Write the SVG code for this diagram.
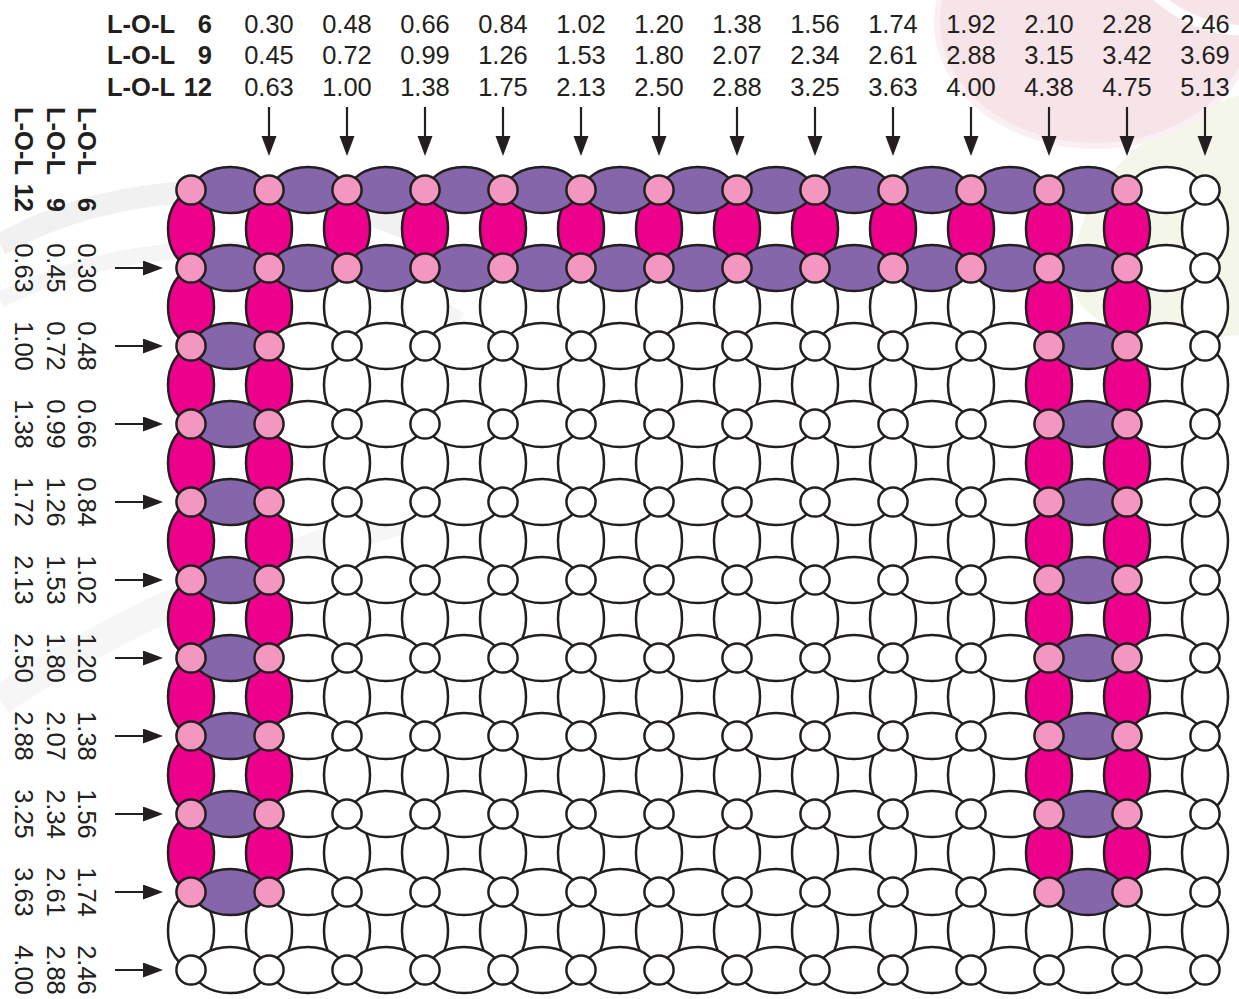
<svg xmlns="http://www.w3.org/2000/svg" width="1239" height="999" viewBox="0 0 1239 999">
<style>
text{font-family:"Liberation Sans",Arial,sans-serif;font-size:25.5px;fill:#231F20}
.lb{font-weight:bold}
.c{text-anchor:middle}
.e{text-anchor:end}
.beads ellipse,.beads circle{stroke:#231F20;stroke-width:2.5}
.w{fill:#FFFFFF}
.u{fill:#8566AB}
.m{fill:#EC008C}
.k{fill:#F397C0}
.ar{stroke:#231F20;stroke-width:2.2;fill:none}
</style>
<defs>
<marker id="ah" markerUnits="userSpaceOnUse" markerWidth="22" markerHeight="16" refX="14" refY="7.5" orient="auto">
<path d="M0,0 L20,7.5 L0,15 Z" fill="#231F20"/>
</marker>
</defs>
<g id="background">
<rect width="1239" height="999" fill="#FFFFFF"/>
<path d="M1239,95 C1150,125 1090,170 1072,260 C1062,320 1120,345 1239,335 Z" fill="#F5F6EA"/>
<ellipse cx="1095" cy="22" rx="158" ry="124" fill="#F7E4E9" stroke="#FAEFF2" stroke-width="6"/>
<path d="M1150,-10 C1180,20 1215,30 1239,30" stroke="#FFFFFF" stroke-width="10" fill="none"/>
<path d="M0,245 C120,175 300,175 420,235" stroke="#F1F1F1" stroke-width="22" fill="none"/>
<path d="M0,300 C150,225 330,235 460,320" stroke="#F5F5F5" stroke-width="16" fill="none"/>
<path d="M0,700 C120,620 260,560 400,520" stroke="#F6F6F6" stroke-width="30" fill="none"/>
</g>
<g id="top-labels">
<text class="lb" x="107" y="33">L-O-L</text><text class="lb e" x="212" y="33">6</text>
<text class="lb" x="107" y="64">L-O-L</text><text class="lb e" x="212" y="64">9</text>
<text class="lb" x="107" y="96">L-O-L</text><text class="lb e" x="212" y="96">12</text>
<text class="c" x="269" y="33">0.30</text><text class="c" x="347" y="33">0.48</text><text class="c" x="425" y="33">0.66</text><text class="c" x="503" y="33">0.84</text><text class="c" x="581" y="33">1.02</text><text class="c" x="659" y="33">1.20</text><text class="c" x="737" y="33">1.38</text><text class="c" x="815" y="33">1.56</text><text class="c" x="893" y="33">1.74</text><text class="c" x="971" y="33">1.92</text><text class="c" x="1049" y="33">2.10</text><text class="c" x="1127" y="33">2.28</text><text class="c" x="1205" y="33">2.46</text>
<text class="c" x="269" y="64">0.45</text><text class="c" x="347" y="64">0.72</text><text class="c" x="425" y="64">0.99</text><text class="c" x="503" y="64">1.26</text><text class="c" x="581" y="64">1.53</text><text class="c" x="659" y="64">1.80</text><text class="c" x="737" y="64">2.07</text><text class="c" x="815" y="64">2.34</text><text class="c" x="893" y="64">2.61</text><text class="c" x="971" y="64">2.88</text><text class="c" x="1049" y="64">3.15</text><text class="c" x="1127" y="64">3.42</text><text class="c" x="1205" y="64">3.69</text>
<text class="c" x="269" y="96">0.63</text><text class="c" x="347" y="96">1.00</text><text class="c" x="425" y="96">1.38</text><text class="c" x="503" y="96">1.75</text><text class="c" x="581" y="96">2.13</text><text class="c" x="659" y="96">2.50</text><text class="c" x="737" y="96">2.88</text><text class="c" x="815" y="96">3.25</text><text class="c" x="893" y="96">3.63</text><text class="c" x="971" y="96">4.00</text><text class="c" x="1049" y="96">4.38</text><text class="c" x="1127" y="96">4.75</text><text class="c" x="1205" y="96">5.13</text>
</g>
<g id="left-labels">
<g transform="translate(78,0) rotate(90)">
<text class="lb" x="107" y="0">L-O-L</text><text class="lb e" x="212" y="0">6</text>
<text class="c" x="268" y="0">0.30</text><text class="c" x="346" y="0">0.48</text><text class="c" x="424" y="0">0.66</text><text class="c" x="502" y="0">0.84</text><text class="c" x="580" y="0">1.02</text><text class="c" x="658" y="0">1.20</text><text class="c" x="736" y="0">1.38</text><text class="c" x="814" y="0">1.56</text><text class="c" x="892" y="0">1.74</text><text class="c" x="970" y="0">2.46</text>
</g>
<g transform="translate(47,0) rotate(90)">
<text class="lb" x="107" y="0">L-O-L</text><text class="lb e" x="212" y="0">9</text>
<text class="c" x="268" y="0">0.45</text><text class="c" x="346" y="0">0.72</text><text class="c" x="424" y="0">0.99</text><text class="c" x="502" y="0">1.26</text><text class="c" x="580" y="0">1.53</text><text class="c" x="658" y="0">1.80</text><text class="c" x="736" y="0">2.07</text><text class="c" x="814" y="0">2.34</text><text class="c" x="892" y="0">2.61</text><text class="c" x="970" y="0">2.88</text>
</g>
<g transform="translate(15,0) rotate(90)">
<text class="lb" x="107" y="0">L-O-L</text><text class="lb e" x="212" y="0">12</text>
<text class="c" x="268" y="0">0.63</text><text class="c" x="346" y="0">1.00</text><text class="c" x="424" y="0">1.38</text><text class="c" x="502" y="0">1.72</text><text class="c" x="580" y="0">2.13</text><text class="c" x="658" y="0">2.50</text><text class="c" x="736" y="0">2.88</text><text class="c" x="814" y="0">3.25</text><text class="c" x="892" y="0">3.63</text><text class="c" x="970" y="0">4.00</text>
</g>
</g>
<g id="connectors" class="ar" marker-end="url(#ah)">
<line x1="269" y1="107" x2="269" y2="150"/><line x1="347" y1="107" x2="347" y2="150"/><line x1="425" y1="107" x2="425" y2="150"/><line x1="503" y1="107" x2="503" y2="150"/><line x1="581" y1="107" x2="581" y2="150"/><line x1="659" y1="107" x2="659" y2="150"/><line x1="737" y1="107" x2="737" y2="150"/><line x1="815" y1="107" x2="815" y2="150"/><line x1="893" y1="107" x2="893" y2="150"/><line x1="971" y1="107" x2="971" y2="150"/><line x1="1049" y1="107" x2="1049" y2="150"/><line x1="1127" y1="107" x2="1127" y2="150"/><line x1="1205" y1="107" x2="1205" y2="150"/>
<line x1="115" y1="268" x2="157" y2="268"/><line x1="115" y1="346" x2="157" y2="346"/><line x1="115" y1="424" x2="157" y2="424"/><line x1="115" y1="502" x2="157" y2="502"/><line x1="115" y1="580" x2="157" y2="580"/><line x1="115" y1="658" x2="157" y2="658"/><line x1="115" y1="736" x2="157" y2="736"/><line x1="115" y1="814" x2="157" y2="814"/><line x1="115" y1="892" x2="157" y2="892"/><line x1="115" y1="970" x2="157" y2="970"/>
</g>
<g id="v-beads" class="beads">
<ellipse cx="191" cy="229" rx="23" ry="36" class="m"/><ellipse cx="269" cy="229" rx="23" ry="36" class="m"/><ellipse cx="347" cy="229" rx="23" ry="36" class="m"/><ellipse cx="425" cy="229" rx="23" ry="36" class="m"/><ellipse cx="503" cy="229" rx="23" ry="36" class="m"/><ellipse cx="581" cy="229" rx="23" ry="36" class="m"/><ellipse cx="659" cy="229" rx="23" ry="36" class="m"/><ellipse cx="737" cy="229" rx="23" ry="36" class="m"/><ellipse cx="815" cy="229" rx="23" ry="36" class="m"/><ellipse cx="893" cy="229" rx="23" ry="36" class="m"/><ellipse cx="971" cy="229" rx="23" ry="36" class="m"/><ellipse cx="1049" cy="229" rx="23" ry="36" class="m"/><ellipse cx="1127" cy="229" rx="23" ry="36" class="m"/><ellipse cx="1205" cy="229" rx="23" ry="36" class="w"/>
<ellipse cx="191" cy="307" rx="23" ry="36" class="m"/><ellipse cx="269" cy="307" rx="23" ry="36" class="m"/><ellipse cx="347" cy="307" rx="23" ry="36" class="w"/><ellipse cx="425" cy="307" rx="23" ry="36" class="w"/><ellipse cx="503" cy="307" rx="23" ry="36" class="w"/><ellipse cx="581" cy="307" rx="23" ry="36" class="w"/><ellipse cx="659" cy="307" rx="23" ry="36" class="w"/><ellipse cx="737" cy="307" rx="23" ry="36" class="w"/><ellipse cx="815" cy="307" rx="23" ry="36" class="w"/><ellipse cx="893" cy="307" rx="23" ry="36" class="w"/><ellipse cx="971" cy="307" rx="23" ry="36" class="w"/><ellipse cx="1049" cy="307" rx="23" ry="36" class="m"/><ellipse cx="1127" cy="307" rx="23" ry="36" class="m"/><ellipse cx="1205" cy="307" rx="23" ry="36" class="w"/>
<ellipse cx="191" cy="385" rx="23" ry="36" class="m"/><ellipse cx="269" cy="385" rx="23" ry="36" class="m"/><ellipse cx="347" cy="385" rx="23" ry="36" class="w"/><ellipse cx="425" cy="385" rx="23" ry="36" class="w"/><ellipse cx="503" cy="385" rx="23" ry="36" class="w"/><ellipse cx="581" cy="385" rx="23" ry="36" class="w"/><ellipse cx="659" cy="385" rx="23" ry="36" class="w"/><ellipse cx="737" cy="385" rx="23" ry="36" class="w"/><ellipse cx="815" cy="385" rx="23" ry="36" class="w"/><ellipse cx="893" cy="385" rx="23" ry="36" class="w"/><ellipse cx="971" cy="385" rx="23" ry="36" class="w"/><ellipse cx="1049" cy="385" rx="23" ry="36" class="m"/><ellipse cx="1127" cy="385" rx="23" ry="36" class="m"/><ellipse cx="1205" cy="385" rx="23" ry="36" class="w"/>
<ellipse cx="191" cy="463" rx="23" ry="36" class="m"/><ellipse cx="269" cy="463" rx="23" ry="36" class="m"/><ellipse cx="347" cy="463" rx="23" ry="36" class="w"/><ellipse cx="425" cy="463" rx="23" ry="36" class="w"/><ellipse cx="503" cy="463" rx="23" ry="36" class="w"/><ellipse cx="581" cy="463" rx="23" ry="36" class="w"/><ellipse cx="659" cy="463" rx="23" ry="36" class="w"/><ellipse cx="737" cy="463" rx="23" ry="36" class="w"/><ellipse cx="815" cy="463" rx="23" ry="36" class="w"/><ellipse cx="893" cy="463" rx="23" ry="36" class="w"/><ellipse cx="971" cy="463" rx="23" ry="36" class="w"/><ellipse cx="1049" cy="463" rx="23" ry="36" class="m"/><ellipse cx="1127" cy="463" rx="23" ry="36" class="m"/><ellipse cx="1205" cy="463" rx="23" ry="36" class="w"/>
<ellipse cx="191" cy="541" rx="23" ry="36" class="m"/><ellipse cx="269" cy="541" rx="23" ry="36" class="m"/><ellipse cx="347" cy="541" rx="23" ry="36" class="w"/><ellipse cx="425" cy="541" rx="23" ry="36" class="w"/><ellipse cx="503" cy="541" rx="23" ry="36" class="w"/><ellipse cx="581" cy="541" rx="23" ry="36" class="w"/><ellipse cx="659" cy="541" rx="23" ry="36" class="w"/><ellipse cx="737" cy="541" rx="23" ry="36" class="w"/><ellipse cx="815" cy="541" rx="23" ry="36" class="w"/><ellipse cx="893" cy="541" rx="23" ry="36" class="w"/><ellipse cx="971" cy="541" rx="23" ry="36" class="w"/><ellipse cx="1049" cy="541" rx="23" ry="36" class="m"/><ellipse cx="1127" cy="541" rx="23" ry="36" class="m"/><ellipse cx="1205" cy="541" rx="23" ry="36" class="w"/>
<ellipse cx="191" cy="619" rx="23" ry="36" class="m"/><ellipse cx="269" cy="619" rx="23" ry="36" class="m"/><ellipse cx="347" cy="619" rx="23" ry="36" class="w"/><ellipse cx="425" cy="619" rx="23" ry="36" class="w"/><ellipse cx="503" cy="619" rx="23" ry="36" class="w"/><ellipse cx="581" cy="619" rx="23" ry="36" class="w"/><ellipse cx="659" cy="619" rx="23" ry="36" class="w"/><ellipse cx="737" cy="619" rx="23" ry="36" class="w"/><ellipse cx="815" cy="619" rx="23" ry="36" class="w"/><ellipse cx="893" cy="619" rx="23" ry="36" class="w"/><ellipse cx="971" cy="619" rx="23" ry="36" class="w"/><ellipse cx="1049" cy="619" rx="23" ry="36" class="m"/><ellipse cx="1127" cy="619" rx="23" ry="36" class="m"/><ellipse cx="1205" cy="619" rx="23" ry="36" class="w"/>
<ellipse cx="191" cy="697" rx="23" ry="36" class="m"/><ellipse cx="269" cy="697" rx="23" ry="36" class="m"/><ellipse cx="347" cy="697" rx="23" ry="36" class="w"/><ellipse cx="425" cy="697" rx="23" ry="36" class="w"/><ellipse cx="503" cy="697" rx="23" ry="36" class="w"/><ellipse cx="581" cy="697" rx="23" ry="36" class="w"/><ellipse cx="659" cy="697" rx="23" ry="36" class="w"/><ellipse cx="737" cy="697" rx="23" ry="36" class="w"/><ellipse cx="815" cy="697" rx="23" ry="36" class="w"/><ellipse cx="893" cy="697" rx="23" ry="36" class="w"/><ellipse cx="971" cy="697" rx="23" ry="36" class="w"/><ellipse cx="1049" cy="697" rx="23" ry="36" class="m"/><ellipse cx="1127" cy="697" rx="23" ry="36" class="m"/><ellipse cx="1205" cy="697" rx="23" ry="36" class="w"/>
<ellipse cx="191" cy="775" rx="23" ry="36" class="m"/><ellipse cx="269" cy="775" rx="23" ry="36" class="m"/><ellipse cx="347" cy="775" rx="23" ry="36" class="w"/><ellipse cx="425" cy="775" rx="23" ry="36" class="w"/><ellipse cx="503" cy="775" rx="23" ry="36" class="w"/><ellipse cx="581" cy="775" rx="23" ry="36" class="w"/><ellipse cx="659" cy="775" rx="23" ry="36" class="w"/><ellipse cx="737" cy="775" rx="23" ry="36" class="w"/><ellipse cx="815" cy="775" rx="23" ry="36" class="w"/><ellipse cx="893" cy="775" rx="23" ry="36" class="w"/><ellipse cx="971" cy="775" rx="23" ry="36" class="w"/><ellipse cx="1049" cy="775" rx="23" ry="36" class="m"/><ellipse cx="1127" cy="775" rx="23" ry="36" class="m"/><ellipse cx="1205" cy="775" rx="23" ry="36" class="w"/>
<ellipse cx="191" cy="853" rx="23" ry="36" class="m"/><ellipse cx="269" cy="853" rx="23" ry="36" class="m"/><ellipse cx="347" cy="853" rx="23" ry="36" class="w"/><ellipse cx="425" cy="853" rx="23" ry="36" class="w"/><ellipse cx="503" cy="853" rx="23" ry="36" class="w"/><ellipse cx="581" cy="853" rx="23" ry="36" class="w"/><ellipse cx="659" cy="853" rx="23" ry="36" class="w"/><ellipse cx="737" cy="853" rx="23" ry="36" class="w"/><ellipse cx="815" cy="853" rx="23" ry="36" class="w"/><ellipse cx="893" cy="853" rx="23" ry="36" class="w"/><ellipse cx="971" cy="853" rx="23" ry="36" class="w"/><ellipse cx="1049" cy="853" rx="23" ry="36" class="m"/><ellipse cx="1127" cy="853" rx="23" ry="36" class="m"/><ellipse cx="1205" cy="853" rx="23" ry="36" class="w"/>
<ellipse cx="191" cy="931" rx="23" ry="36" class="w"/><ellipse cx="269" cy="931" rx="23" ry="36" class="w"/><ellipse cx="347" cy="931" rx="23" ry="36" class="w"/><ellipse cx="425" cy="931" rx="23" ry="36" class="w"/><ellipse cx="503" cy="931" rx="23" ry="36" class="w"/><ellipse cx="581" cy="931" rx="23" ry="36" class="w"/><ellipse cx="659" cy="931" rx="23" ry="36" class="w"/><ellipse cx="737" cy="931" rx="23" ry="36" class="w"/><ellipse cx="815" cy="931" rx="23" ry="36" class="w"/><ellipse cx="893" cy="931" rx="23" ry="36" class="w"/><ellipse cx="971" cy="931" rx="23" ry="36" class="w"/><ellipse cx="1049" cy="931" rx="23" ry="36" class="w"/><ellipse cx="1127" cy="931" rx="23" ry="36" class="w"/><ellipse cx="1205" cy="931" rx="23" ry="36" class="w"/>
</g>
<g id="h-beads" class="beads">
<ellipse cx="230" cy="190" rx="36" ry="23" class="u"/><ellipse cx="308" cy="190" rx="36" ry="23" class="u"/><ellipse cx="386" cy="190" rx="36" ry="23" class="u"/><ellipse cx="464" cy="190" rx="36" ry="23" class="u"/><ellipse cx="542" cy="190" rx="36" ry="23" class="u"/><ellipse cx="620" cy="190" rx="36" ry="23" class="u"/><ellipse cx="698" cy="190" rx="36" ry="23" class="u"/><ellipse cx="776" cy="190" rx="36" ry="23" class="u"/><ellipse cx="854" cy="190" rx="36" ry="23" class="u"/><ellipse cx="932" cy="190" rx="36" ry="23" class="u"/><ellipse cx="1010" cy="190" rx="36" ry="23" class="u"/><ellipse cx="1088" cy="190" rx="36" ry="23" class="u"/><ellipse cx="1166" cy="190" rx="36" ry="23" class="w"/>
<ellipse cx="230" cy="268" rx="36" ry="23" class="u"/><ellipse cx="308" cy="268" rx="36" ry="23" class="u"/><ellipse cx="386" cy="268" rx="36" ry="23" class="u"/><ellipse cx="464" cy="268" rx="36" ry="23" class="u"/><ellipse cx="542" cy="268" rx="36" ry="23" class="u"/><ellipse cx="620" cy="268" rx="36" ry="23" class="u"/><ellipse cx="698" cy="268" rx="36" ry="23" class="u"/><ellipse cx="776" cy="268" rx="36" ry="23" class="u"/><ellipse cx="854" cy="268" rx="36" ry="23" class="u"/><ellipse cx="932" cy="268" rx="36" ry="23" class="u"/><ellipse cx="1010" cy="268" rx="36" ry="23" class="u"/><ellipse cx="1088" cy="268" rx="36" ry="23" class="u"/><ellipse cx="1166" cy="268" rx="36" ry="23" class="w"/>
<ellipse cx="230" cy="346" rx="36" ry="23" class="u"/><ellipse cx="308" cy="346" rx="36" ry="23" class="w"/><ellipse cx="386" cy="346" rx="36" ry="23" class="w"/><ellipse cx="464" cy="346" rx="36" ry="23" class="w"/><ellipse cx="542" cy="346" rx="36" ry="23" class="w"/><ellipse cx="620" cy="346" rx="36" ry="23" class="w"/><ellipse cx="698" cy="346" rx="36" ry="23" class="w"/><ellipse cx="776" cy="346" rx="36" ry="23" class="w"/><ellipse cx="854" cy="346" rx="36" ry="23" class="w"/><ellipse cx="932" cy="346" rx="36" ry="23" class="w"/><ellipse cx="1010" cy="346" rx="36" ry="23" class="w"/><ellipse cx="1088" cy="346" rx="36" ry="23" class="u"/><ellipse cx="1166" cy="346" rx="36" ry="23" class="w"/>
<ellipse cx="230" cy="424" rx="36" ry="23" class="u"/><ellipse cx="308" cy="424" rx="36" ry="23" class="w"/><ellipse cx="386" cy="424" rx="36" ry="23" class="w"/><ellipse cx="464" cy="424" rx="36" ry="23" class="w"/><ellipse cx="542" cy="424" rx="36" ry="23" class="w"/><ellipse cx="620" cy="424" rx="36" ry="23" class="w"/><ellipse cx="698" cy="424" rx="36" ry="23" class="w"/><ellipse cx="776" cy="424" rx="36" ry="23" class="w"/><ellipse cx="854" cy="424" rx="36" ry="23" class="w"/><ellipse cx="932" cy="424" rx="36" ry="23" class="w"/><ellipse cx="1010" cy="424" rx="36" ry="23" class="w"/><ellipse cx="1088" cy="424" rx="36" ry="23" class="u"/><ellipse cx="1166" cy="424" rx="36" ry="23" class="w"/>
<ellipse cx="230" cy="502" rx="36" ry="23" class="u"/><ellipse cx="308" cy="502" rx="36" ry="23" class="w"/><ellipse cx="386" cy="502" rx="36" ry="23" class="w"/><ellipse cx="464" cy="502" rx="36" ry="23" class="w"/><ellipse cx="542" cy="502" rx="36" ry="23" class="w"/><ellipse cx="620" cy="502" rx="36" ry="23" class="w"/><ellipse cx="698" cy="502" rx="36" ry="23" class="w"/><ellipse cx="776" cy="502" rx="36" ry="23" class="w"/><ellipse cx="854" cy="502" rx="36" ry="23" class="w"/><ellipse cx="932" cy="502" rx="36" ry="23" class="w"/><ellipse cx="1010" cy="502" rx="36" ry="23" class="w"/><ellipse cx="1088" cy="502" rx="36" ry="23" class="u"/><ellipse cx="1166" cy="502" rx="36" ry="23" class="w"/>
<ellipse cx="230" cy="580" rx="36" ry="23" class="u"/><ellipse cx="308" cy="580" rx="36" ry="23" class="w"/><ellipse cx="386" cy="580" rx="36" ry="23" class="w"/><ellipse cx="464" cy="580" rx="36" ry="23" class="w"/><ellipse cx="542" cy="580" rx="36" ry="23" class="w"/><ellipse cx="620" cy="580" rx="36" ry="23" class="w"/><ellipse cx="698" cy="580" rx="36" ry="23" class="w"/><ellipse cx="776" cy="580" rx="36" ry="23" class="w"/><ellipse cx="854" cy="580" rx="36" ry="23" class="w"/><ellipse cx="932" cy="580" rx="36" ry="23" class="w"/><ellipse cx="1010" cy="580" rx="36" ry="23" class="w"/><ellipse cx="1088" cy="580" rx="36" ry="23" class="u"/><ellipse cx="1166" cy="580" rx="36" ry="23" class="w"/>
<ellipse cx="230" cy="658" rx="36" ry="23" class="u"/><ellipse cx="308" cy="658" rx="36" ry="23" class="w"/><ellipse cx="386" cy="658" rx="36" ry="23" class="w"/><ellipse cx="464" cy="658" rx="36" ry="23" class="w"/><ellipse cx="542" cy="658" rx="36" ry="23" class="w"/><ellipse cx="620" cy="658" rx="36" ry="23" class="w"/><ellipse cx="698" cy="658" rx="36" ry="23" class="w"/><ellipse cx="776" cy="658" rx="36" ry="23" class="w"/><ellipse cx="854" cy="658" rx="36" ry="23" class="w"/><ellipse cx="932" cy="658" rx="36" ry="23" class="w"/><ellipse cx="1010" cy="658" rx="36" ry="23" class="w"/><ellipse cx="1088" cy="658" rx="36" ry="23" class="u"/><ellipse cx="1166" cy="658" rx="36" ry="23" class="w"/>
<ellipse cx="230" cy="736" rx="36" ry="23" class="u"/><ellipse cx="308" cy="736" rx="36" ry="23" class="w"/><ellipse cx="386" cy="736" rx="36" ry="23" class="w"/><ellipse cx="464" cy="736" rx="36" ry="23" class="w"/><ellipse cx="542" cy="736" rx="36" ry="23" class="w"/><ellipse cx="620" cy="736" rx="36" ry="23" class="w"/><ellipse cx="698" cy="736" rx="36" ry="23" class="w"/><ellipse cx="776" cy="736" rx="36" ry="23" class="w"/><ellipse cx="854" cy="736" rx="36" ry="23" class="w"/><ellipse cx="932" cy="736" rx="36" ry="23" class="w"/><ellipse cx="1010" cy="736" rx="36" ry="23" class="w"/><ellipse cx="1088" cy="736" rx="36" ry="23" class="u"/><ellipse cx="1166" cy="736" rx="36" ry="23" class="w"/>
<ellipse cx="230" cy="814" rx="36" ry="23" class="u"/><ellipse cx="308" cy="814" rx="36" ry="23" class="w"/><ellipse cx="386" cy="814" rx="36" ry="23" class="w"/><ellipse cx="464" cy="814" rx="36" ry="23" class="w"/><ellipse cx="542" cy="814" rx="36" ry="23" class="w"/><ellipse cx="620" cy="814" rx="36" ry="23" class="w"/><ellipse cx="698" cy="814" rx="36" ry="23" class="w"/><ellipse cx="776" cy="814" rx="36" ry="23" class="w"/><ellipse cx="854" cy="814" rx="36" ry="23" class="w"/><ellipse cx="932" cy="814" rx="36" ry="23" class="w"/><ellipse cx="1010" cy="814" rx="36" ry="23" class="w"/><ellipse cx="1088" cy="814" rx="36" ry="23" class="u"/><ellipse cx="1166" cy="814" rx="36" ry="23" class="w"/>
<ellipse cx="230" cy="892" rx="36" ry="23" class="u"/><ellipse cx="308" cy="892" rx="36" ry="23" class="w"/><ellipse cx="386" cy="892" rx="36" ry="23" class="w"/><ellipse cx="464" cy="892" rx="36" ry="23" class="w"/><ellipse cx="542" cy="892" rx="36" ry="23" class="w"/><ellipse cx="620" cy="892" rx="36" ry="23" class="w"/><ellipse cx="698" cy="892" rx="36" ry="23" class="w"/><ellipse cx="776" cy="892" rx="36" ry="23" class="w"/><ellipse cx="854" cy="892" rx="36" ry="23" class="w"/><ellipse cx="932" cy="892" rx="36" ry="23" class="w"/><ellipse cx="1010" cy="892" rx="36" ry="23" class="w"/><ellipse cx="1088" cy="892" rx="36" ry="23" class="u"/><ellipse cx="1166" cy="892" rx="36" ry="23" class="w"/>
<ellipse cx="230" cy="970" rx="36" ry="23" class="w"/><ellipse cx="308" cy="970" rx="36" ry="23" class="w"/><ellipse cx="386" cy="970" rx="36" ry="23" class="w"/><ellipse cx="464" cy="970" rx="36" ry="23" class="w"/><ellipse cx="542" cy="970" rx="36" ry="23" class="w"/><ellipse cx="620" cy="970" rx="36" ry="23" class="w"/><ellipse cx="698" cy="970" rx="36" ry="23" class="w"/><ellipse cx="776" cy="970" rx="36" ry="23" class="w"/><ellipse cx="854" cy="970" rx="36" ry="23" class="w"/><ellipse cx="932" cy="970" rx="36" ry="23" class="w"/><ellipse cx="1010" cy="970" rx="36" ry="23" class="w"/><ellipse cx="1088" cy="970" rx="36" ry="23" class="w"/><ellipse cx="1166" cy="970" rx="36" ry="23" class="w"/>
</g>
<g id="nodes" class="beads">
<circle cx="191" cy="190" r="14.6" class="k"/><circle cx="269" cy="190" r="14.6" class="k"/><circle cx="347" cy="190" r="14.6" class="k"/><circle cx="425" cy="190" r="14.6" class="k"/><circle cx="503" cy="190" r="14.6" class="k"/><circle cx="581" cy="190" r="14.6" class="k"/><circle cx="659" cy="190" r="14.6" class="k"/><circle cx="737" cy="190" r="14.6" class="k"/><circle cx="815" cy="190" r="14.6" class="k"/><circle cx="893" cy="190" r="14.6" class="k"/><circle cx="971" cy="190" r="14.6" class="k"/><circle cx="1049" cy="190" r="14.6" class="k"/><circle cx="1127" cy="190" r="14.6" class="k"/><circle cx="1205" cy="190" r="14.6" class="w"/>
<circle cx="191" cy="268" r="14.6" class="k"/><circle cx="269" cy="268" r="14.6" class="k"/><circle cx="347" cy="268" r="14.6" class="k"/><circle cx="425" cy="268" r="14.6" class="k"/><circle cx="503" cy="268" r="14.6" class="k"/><circle cx="581" cy="268" r="14.6" class="k"/><circle cx="659" cy="268" r="14.6" class="k"/><circle cx="737" cy="268" r="14.6" class="k"/><circle cx="815" cy="268" r="14.6" class="k"/><circle cx="893" cy="268" r="14.6" class="k"/><circle cx="971" cy="268" r="14.6" class="k"/><circle cx="1049" cy="268" r="14.6" class="k"/><circle cx="1127" cy="268" r="14.6" class="k"/><circle cx="1205" cy="268" r="14.6" class="w"/>
<circle cx="191" cy="346" r="14.6" class="k"/><circle cx="269" cy="346" r="14.6" class="k"/><circle cx="347" cy="346" r="14.6" class="w"/><circle cx="425" cy="346" r="14.6" class="w"/><circle cx="503" cy="346" r="14.6" class="w"/><circle cx="581" cy="346" r="14.6" class="w"/><circle cx="659" cy="346" r="14.6" class="w"/><circle cx="737" cy="346" r="14.6" class="w"/><circle cx="815" cy="346" r="14.6" class="w"/><circle cx="893" cy="346" r="14.6" class="w"/><circle cx="971" cy="346" r="14.6" class="w"/><circle cx="1049" cy="346" r="14.6" class="k"/><circle cx="1127" cy="346" r="14.6" class="k"/><circle cx="1205" cy="346" r="14.6" class="w"/>
<circle cx="191" cy="424" r="14.6" class="k"/><circle cx="269" cy="424" r="14.6" class="k"/><circle cx="347" cy="424" r="14.6" class="w"/><circle cx="425" cy="424" r="14.6" class="w"/><circle cx="503" cy="424" r="14.6" class="w"/><circle cx="581" cy="424" r="14.6" class="w"/><circle cx="659" cy="424" r="14.6" class="w"/><circle cx="737" cy="424" r="14.6" class="w"/><circle cx="815" cy="424" r="14.6" class="w"/><circle cx="893" cy="424" r="14.6" class="w"/><circle cx="971" cy="424" r="14.6" class="w"/><circle cx="1049" cy="424" r="14.6" class="k"/><circle cx="1127" cy="424" r="14.6" class="k"/><circle cx="1205" cy="424" r="14.6" class="w"/>
<circle cx="191" cy="502" r="14.6" class="k"/><circle cx="269" cy="502" r="14.6" class="k"/><circle cx="347" cy="502" r="14.6" class="w"/><circle cx="425" cy="502" r="14.6" class="w"/><circle cx="503" cy="502" r="14.6" class="w"/><circle cx="581" cy="502" r="14.6" class="w"/><circle cx="659" cy="502" r="14.6" class="w"/><circle cx="737" cy="502" r="14.6" class="w"/><circle cx="815" cy="502" r="14.6" class="w"/><circle cx="893" cy="502" r="14.6" class="w"/><circle cx="971" cy="502" r="14.6" class="w"/><circle cx="1049" cy="502" r="14.6" class="k"/><circle cx="1127" cy="502" r="14.6" class="k"/><circle cx="1205" cy="502" r="14.6" class="w"/>
<circle cx="191" cy="580" r="14.6" class="k"/><circle cx="269" cy="580" r="14.6" class="k"/><circle cx="347" cy="580" r="14.6" class="w"/><circle cx="425" cy="580" r="14.6" class="w"/><circle cx="503" cy="580" r="14.6" class="w"/><circle cx="581" cy="580" r="14.6" class="w"/><circle cx="659" cy="580" r="14.6" class="w"/><circle cx="737" cy="580" r="14.6" class="w"/><circle cx="815" cy="580" r="14.6" class="w"/><circle cx="893" cy="580" r="14.6" class="w"/><circle cx="971" cy="580" r="14.6" class="w"/><circle cx="1049" cy="580" r="14.6" class="k"/><circle cx="1127" cy="580" r="14.6" class="k"/><circle cx="1205" cy="580" r="14.6" class="w"/>
<circle cx="191" cy="658" r="14.6" class="k"/><circle cx="269" cy="658" r="14.6" class="k"/><circle cx="347" cy="658" r="14.6" class="w"/><circle cx="425" cy="658" r="14.6" class="w"/><circle cx="503" cy="658" r="14.6" class="w"/><circle cx="581" cy="658" r="14.6" class="w"/><circle cx="659" cy="658" r="14.6" class="w"/><circle cx="737" cy="658" r="14.6" class="w"/><circle cx="815" cy="658" r="14.6" class="w"/><circle cx="893" cy="658" r="14.6" class="w"/><circle cx="971" cy="658" r="14.6" class="w"/><circle cx="1049" cy="658" r="14.6" class="k"/><circle cx="1127" cy="658" r="14.6" class="k"/><circle cx="1205" cy="658" r="14.6" class="w"/>
<circle cx="191" cy="736" r="14.6" class="k"/><circle cx="269" cy="736" r="14.6" class="k"/><circle cx="347" cy="736" r="14.6" class="w"/><circle cx="425" cy="736" r="14.6" class="w"/><circle cx="503" cy="736" r="14.6" class="w"/><circle cx="581" cy="736" r="14.6" class="w"/><circle cx="659" cy="736" r="14.6" class="w"/><circle cx="737" cy="736" r="14.6" class="w"/><circle cx="815" cy="736" r="14.6" class="w"/><circle cx="893" cy="736" r="14.6" class="w"/><circle cx="971" cy="736" r="14.6" class="w"/><circle cx="1049" cy="736" r="14.6" class="k"/><circle cx="1127" cy="736" r="14.6" class="k"/><circle cx="1205" cy="736" r="14.6" class="w"/>
<circle cx="191" cy="814" r="14.6" class="k"/><circle cx="269" cy="814" r="14.6" class="k"/><circle cx="347" cy="814" r="14.6" class="w"/><circle cx="425" cy="814" r="14.6" class="w"/><circle cx="503" cy="814" r="14.6" class="w"/><circle cx="581" cy="814" r="14.6" class="w"/><circle cx="659" cy="814" r="14.6" class="w"/><circle cx="737" cy="814" r="14.6" class="w"/><circle cx="815" cy="814" r="14.6" class="w"/><circle cx="893" cy="814" r="14.6" class="w"/><circle cx="971" cy="814" r="14.6" class="w"/><circle cx="1049" cy="814" r="14.6" class="k"/><circle cx="1127" cy="814" r="14.6" class="k"/><circle cx="1205" cy="814" r="14.6" class="w"/>
<circle cx="191" cy="892" r="14.6" class="k"/><circle cx="269" cy="892" r="14.6" class="k"/><circle cx="347" cy="892" r="14.6" class="w"/><circle cx="425" cy="892" r="14.6" class="w"/><circle cx="503" cy="892" r="14.6" class="w"/><circle cx="581" cy="892" r="14.6" class="w"/><circle cx="659" cy="892" r="14.6" class="w"/><circle cx="737" cy="892" r="14.6" class="w"/><circle cx="815" cy="892" r="14.6" class="w"/><circle cx="893" cy="892" r="14.6" class="w"/><circle cx="971" cy="892" r="14.6" class="w"/><circle cx="1049" cy="892" r="14.6" class="k"/><circle cx="1127" cy="892" r="14.6" class="k"/><circle cx="1205" cy="892" r="14.6" class="w"/>
<circle cx="191" cy="970" r="14.6" class="w"/><circle cx="269" cy="970" r="14.6" class="w"/><circle cx="347" cy="970" r="14.6" class="w"/><circle cx="425" cy="970" r="14.6" class="w"/><circle cx="503" cy="970" r="14.6" class="w"/><circle cx="581" cy="970" r="14.6" class="w"/><circle cx="659" cy="970" r="14.6" class="w"/><circle cx="737" cy="970" r="14.6" class="w"/><circle cx="815" cy="970" r="14.6" class="w"/><circle cx="893" cy="970" r="14.6" class="w"/><circle cx="971" cy="970" r="14.6" class="w"/><circle cx="1049" cy="970" r="14.6" class="w"/><circle cx="1127" cy="970" r="14.6" class="w"/><circle cx="1205" cy="970" r="14.6" class="w"/>
</g>
</svg>
